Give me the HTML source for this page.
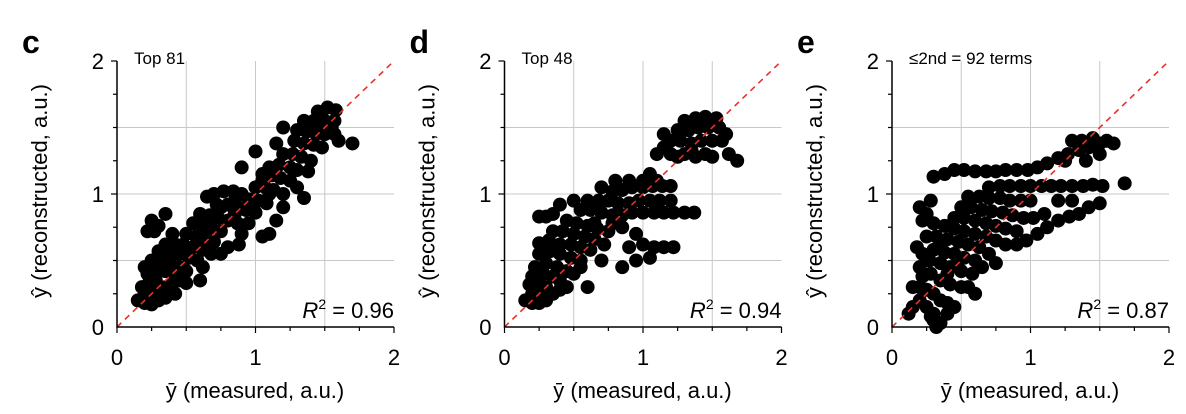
<!DOCTYPE html>
<html><head><meta charset="utf-8"><style>
html,body{margin:0;padding:0;background:#fff;}
svg{display:block;font-family:"Liberation Sans",Arial,sans-serif;}
</style></head><body>
<svg id="fig" width="1186" height="414" viewBox="0 0 1186 414" xmlns="http://www.w3.org/2000/svg"></svg>
<script>
const panelLetters=['c','d','e'];
const panelTitles=['Top 81','Top 48','\u22642nd = 92 terms'];
const r2Values=['0.96','0.94','0.87'];
const tickLabels=['0','1','2'];
const gridValues=[0.5,1,1.5];
const pointsC=[[0.15,0.2],[0.2,0.18],[0.25,0.17],[0.3,0.2],[0.2,0.25],[0.25,0.25],[0.3,0.27],[0.18,0.3],[0.23,0.33],[0.28,0.35],[0.35,0.3],[0.4,0.33],[0.22,0.4],[0.28,0.43],[0.35,0.42],[0.42,0.4],[0.2,0.45],[0.25,0.5],[0.32,0.5],[0.38,0.5],[0.45,0.45],[0.5,0.42],[0.3,0.57],[0.38,0.58],[0.45,0.55],[0.52,0.52],[0.58,0.5],[0.22,0.72],[0.27,0.72],[0.3,0.76],[0.35,0.62],[0.42,0.62],[0.48,0.62],[0.55,0.6],[0.62,0.58],[0.5,0.7],[0.57,0.68],[0.63,0.66],[0.7,0.64],[0.55,0.78],[0.62,0.76],[0.68,0.74],[0.75,0.72],[0.6,0.85],[0.67,0.84],[0.73,0.82],[0.8,0.8],[0.87,0.78],[0.65,0.98],[0.7,1.0],[0.77,1.02],[0.84,1.02],[0.9,1.0],[0.72,0.92],[0.8,0.92],[0.87,0.9],[0.93,0.88],[1.0,0.86],[0.95,0.96],[1.02,0.95],[1.08,0.93],[1.0,1.05],[1.07,1.05],[1.13,1.03],[1.2,1.0],[1.05,1.15],[1.12,1.14],[1.18,1.12],[1.25,1.1],[1.1,1.2],[1.17,1.22],[1.25,1.2],[1.3,1.18],[1.2,1.3],[1.27,1.3],[1.33,1.28],[1.4,1.25],[1.28,1.4],[1.35,1.38],[1.42,1.37],[1.48,1.35],[1.3,1.48],[1.37,1.47],[1.44,1.45],[1.5,1.45],[1.57,1.45],[1.35,1.55],[1.42,1.55],[1.5,1.55],[1.57,1.55],[1.45,1.62],[1.52,1.65],[1.58,1.63],[1.55,1.5],[1.6,1.4],[1.7,1.38],[1.2,0.9],[1.15,0.8],[1.1,0.7],[1.05,0.68],[0.9,0.7],[0.95,0.78],[0.5,0.33],[0.6,0.35],[0.75,0.55],[0.8,0.6],[0.88,0.62],[0.9,1.2],[1.0,1.32],[1.15,1.38],[1.2,1.5],[0.35,0.85],[0.25,0.8],[0.4,0.7],[0.45,0.35],[0.35,0.22],[0.42,0.25],[0.62,0.45],[0.68,0.55],[1.05,1.1],[0.85,0.95],[0.75,0.9],[1.3,1.05],[1.35,0.97],[1.38,1.17],[0.85,0.85],[0.95,0.9],[1.1,1.0],[1.45,1.5],[1.52,1.5],[0.4,0.45],[0.5,0.55]];
const pointsD=[[0.15,0.2],[0.2,0.18],[0.25,0.18],[0.3,0.2],[0.2,0.25],[0.25,0.27],[0.3,0.3],[0.35,0.25],[0.18,0.32],[0.23,0.35],[0.28,0.4],[0.35,0.38],[0.4,0.35],[0.45,0.3],[0.22,0.45],[0.3,0.48],[0.38,0.45],[0.45,0.42],[0.5,0.4],[0.25,0.55],[0.33,0.57],[0.4,0.55],[0.48,0.52],[0.55,0.5],[0.25,0.63],[0.32,0.65],[0.4,0.62],[0.48,0.62],[0.55,0.6],[0.62,0.58],[0.35,0.72],[0.42,0.72],[0.5,0.7],[0.58,0.68],[0.65,0.66],[0.72,0.62],[0.25,0.83],[0.3,0.83],[0.35,0.85],[0.45,0.8],[0.52,0.78],[0.6,0.76],[0.67,0.74],[0.75,0.72],[0.55,0.88],[0.62,0.88],[0.7,0.86],[0.78,0.84],[0.85,0.84],[0.92,0.86],[1.0,0.86],[1.08,0.86],[1.15,0.86],[1.22,0.86],[1.3,0.86],[1.37,0.86],[0.6,0.95],[0.68,0.95],[0.75,0.95],[0.82,0.93],[0.9,0.93],[0.97,0.95],[1.05,0.95],[1.12,0.95],[1.2,0.95],[0.7,1.05],[0.78,1.02],[0.85,1.03],[0.92,1.05],[1.0,1.05],[1.07,1.06],[1.14,1.06],[1.2,1.06],[0.8,1.1],[0.9,1.1],[1.0,1.1],[1.1,1.1],[0.85,0.75],[0.95,0.7],[1.0,0.62],[1.08,0.6],[1.15,0.6],[1.22,0.6],[0.9,0.6],[0.95,0.5],[1.05,0.52],[0.85,0.45],[0.6,0.3],[0.55,0.45],[0.7,0.5],[1.1,1.3],[1.15,1.35],[1.2,1.3],[1.25,1.28],[1.3,1.3],[1.38,1.28],[1.45,1.3],[1.5,1.28],[1.2,1.4],[1.27,1.4],[1.35,1.38],[1.42,1.4],[1.5,1.4],[1.57,1.4],[1.25,1.48],[1.33,1.48],[1.4,1.5],[1.47,1.5],[1.55,1.5],[1.6,1.45],[1.3,1.55],[1.38,1.57],[1.45,1.58],[1.53,1.57],[1.62,1.3],[1.68,1.25],[1.05,1.15],[0.5,0.95],[0.65,0.78],[0.78,0.78],[0.4,0.92],[1.15,1.45],[1.35,1.33],[0.4,0.28],[0.2,0.38]];
const pointsE=[[0.15,0.15],[0.2,0.2],[0.25,0.15],[0.3,0.1],[0.3,0.05],[0.32,0.0],[0.35,0.03],[0.28,0.08],[0.2,0.3],[0.25,0.28],[0.3,0.25],[0.35,0.2],[0.4,0.18],[0.45,0.15],[0.22,0.38],[0.28,0.4],[0.35,0.35],[0.42,0.32],[0.5,0.3],[0.2,0.45],[0.27,0.5],[0.35,0.48],[0.42,0.45],[0.5,0.42],[0.58,0.4],[0.22,0.55],[0.3,0.58],[0.38,0.56],[0.45,0.55],[0.52,0.52],[0.6,0.5],[0.25,0.68],[0.32,0.68],[0.4,0.66],[0.48,0.64],[0.55,0.62],[0.63,0.6],[0.7,0.55],[0.22,0.8],[0.25,0.85],[0.3,0.78],[0.38,0.76],[0.45,0.74],[0.52,0.72],[0.6,0.7],[0.68,0.68],[0.75,0.65],[0.82,0.62],[0.9,0.62],[0.97,0.65],[1.05,0.7],[1.12,0.75],[1.2,0.8],[1.28,0.83],[1.35,0.85],[1.42,0.9],[1.5,0.93],[0.45,0.82],[0.52,0.82],[0.6,0.8],[0.68,0.78],[0.75,0.76],[0.82,0.74],[0.9,0.72],[0.5,0.9],[0.57,0.9],[0.65,0.88],[0.72,0.87],[0.8,0.86],[0.87,0.84],[0.95,0.82],[1.02,0.82],[1.1,0.85],[0.55,0.98],[0.63,0.98],[0.7,0.97],[0.78,0.97],[0.85,0.95],[0.93,0.95],[1.0,0.95],[0.7,1.05],[0.78,1.06],[0.85,1.06],[0.93,1.06],[1.0,1.06],[1.08,1.06],[1.15,1.06],[1.22,1.06],[1.3,1.06],[1.38,1.06],[1.45,1.07],[1.52,1.06],[1.68,1.08],[0.3,1.13],[0.38,1.15],[0.45,1.18],[0.52,1.18],[0.6,1.17],[0.68,1.17],[0.75,1.17],[0.82,1.18],[0.9,1.18],[0.98,1.18],[1.05,1.2],[1.12,1.23],[1.2,1.27],[1.27,1.3],[1.35,1.33],[1.42,1.35],[1.5,1.38],[1.55,1.4],[1.3,1.4],[1.37,1.4],[1.45,1.42],[1.25,1.25],[1.4,1.25],[1.5,1.3],[1.6,1.38],[0.55,0.3],[0.6,0.25],[0.65,0.45],[0.75,0.48],[0.15,0.3],[0.18,0.6],[0.28,0.95],[0.2,0.9],[0.12,0.1],[0.4,0.1],[0.35,0.62],[0.48,0.5],[0.4,0.4],[1.2,0.95],[1.3,0.95]];
const allPoints=[pointsC,pointsD,pointsE];

const NS='http://www.w3.org/2000/svg';
const svg=document.getElementById('fig');
function mk(tag,attrs,parent,text){const e=document.createElementNS(NS,tag);for(const k in attrs)e.setAttribute(k,attrs[k]);if(text!==undefined)e.textContent=text;parent.appendChild(e);return e;}
const plotLefts=[117,504.5,892];
const plotTop=61,plotBottom=327,W=277,H=266;
for(let p=0;p<3;p++){
  const x0=plotLefts[p];
  const sx=v=>x0+v/2*W, sy=v=>plotBottom-v/2*H;
  const g=mk('g',{},svg);
  
  
  gridValues.forEach(v=>{
    const gv=mk('line',{x1:sx(v),x2:sx(v),y1:plotTop,y2:plotBottom,stroke:'#c8c8c8','stroke-width':1},g);
    
    
    const gh=mk('line',{x1:x0,x2:x0+W,y1:sy(v),y2:sy(v),stroke:'#c8c8c8','stroke-width':1},g);
    
    
  });
  const pts=mk('g',{fill:'#000'},g);
  
  
  allPoints[p].forEach(d=>{
    const c=mk('circle',{cx:sx(d[0]),cy:sy(d[1]),r:7},pts);
    
    
  });
  const dl=mk('line',{x1:sx(0),y1:sy(0),x2:sx(2),y2:sy(2),stroke:'#e8302a','stroke-width':1.6,'stroke-dasharray':'6,5'},g);
  
  
  const ax=mk('path',{d:`M${x0},${plotTop}V${plotBottom}H${x0+W}`,stroke:'#000','stroke-width':1.5,fill:'none'},g);
  
  
  for(let i=0;i<=8;i++){
    const v=i*0.25, len=(i%4===0)?6:4;
    mk('line',{x1:sx(v),x2:sx(v),y1:plotBottom,y2:plotBottom+len,stroke:'#000','stroke-width':1.2},g);
    if(i>0) mk('line',{x1:x0,x2:x0-len,y1:sy(v),y2:sy(v),stroke:'#000','stroke-width':1.2},g);
  }
  tickLabels.forEach((t,i)=>{
    const xt=mk('text',{x:sx(i),y:365,'text-anchor':'middle','font-size':22},g,t);
    
    
    const yt=mk('text',{x:x0-13,y:sy(i)+8,'text-anchor':'end','font-size':22},g,t);
    
    
  });
  const L=mk('text',{x:x0-95,y:53,'font-size':32,'font-weight':'bold'},g,panelLetters[p]);
  
  
  const T=mk('text',{x:x0+17,y:64,'font-size':17},g,panelTitles[p]);
  
  
  const R=mk('text',{x:x0+W,y:318,'text-anchor':'end','font-size':22},g);
  
  
  mk('tspan',{'font-style':'italic'},R,'R');
  mk('tspan',{dy:-9,'font-size':14},R,'2');
  mk('tspan',{dy:9},R,' = '+r2Values[p]);
  const XT=mk('text',{x:x0+138,y:398,'text-anchor':'middle','font-size':22},g,'\u0233 (measured, a.u.)');
  
  
  const YT=mk('text',{x:0,y:0,'text-anchor':'middle','font-size':22,transform:`translate(${x0-70},${(plotTop+plotBottom)/2-3}) rotate(-90)`},g,'y\u0302 (reconstructed, a.u.)');
  
  
}
</script>
</body></html>
